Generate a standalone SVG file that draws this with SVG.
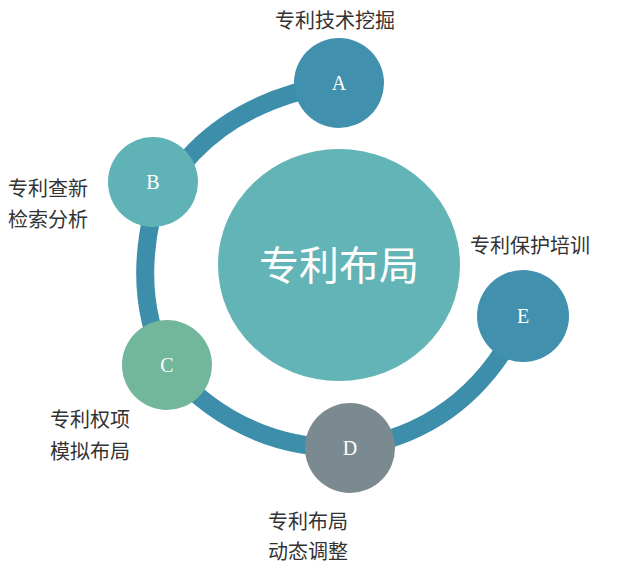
<svg xmlns="http://www.w3.org/2000/svg" width="624" height="568" viewBox="0 0 624 568">
<style>
.lb{font-family:"Noto Sans CJK SC","Noto Sans",sans-serif;font-size:20px;fill:#333}
.lt{font-family:"Liberation Serif",serif;font-size:20px;fill:#fff;text-anchor:middle}
</style>
<rect width="624" height="568" fill="#fff"/>
<g id="connectors">
<path d="M339,83 Q200,105 152,215 Q133,300 167,365 Q240,450 350,448 Q470,430 523,315" fill="none" stroke="#3d8eaa" stroke-width="18"/>
</g>
<g id="center"><ellipse cx="339" cy="265" rx="121" ry="116" fill="#63b4b6"/>
<text x="339" y="280" font-family="Noto Sans CJK SC,sans-serif" font-size="40" fill="#fff" text-anchor="middle">专利布局</text></g>
<g id="A"><circle cx="339" cy="83" r="45" fill="#4190ae"/><text class="lt" x="339" y="90">A</text>
<text class="lb" x="275" y="28">专利技术挖掘</text></g>
<g id="B"><circle cx="153" cy="182" r="45" fill="#5fb2b6"/><text class="lt" x="153" y="189">B</text>
<text class="lb" x="8" y="196">专利查新</text><text class="lb" x="8" y="227">检索分析</text></g>
<g id="C"><circle cx="167" cy="365" r="45" fill="#72b69c"/><text class="lt" x="167" y="372">C</text>
<text class="lb" x="50" y="427">专利权项</text><text class="lb" x="50" y="459">模拟布局</text></g>
<g id="D"><circle cx="350" cy="448" r="45" fill="#7b8a90"/><text class="lt" x="350" y="455">D</text>
<text class="lb" x="268" y="529">专利布局</text><text class="lb" x="268" y="559">动态调整</text></g>
<g id="E"><circle cx="523" cy="316" r="46" fill="#4190ae"/><text class="lt" x="523" y="323">E</text>
<text class="lb" x="470" y="253">专利保护培训</text></g>
</svg>
